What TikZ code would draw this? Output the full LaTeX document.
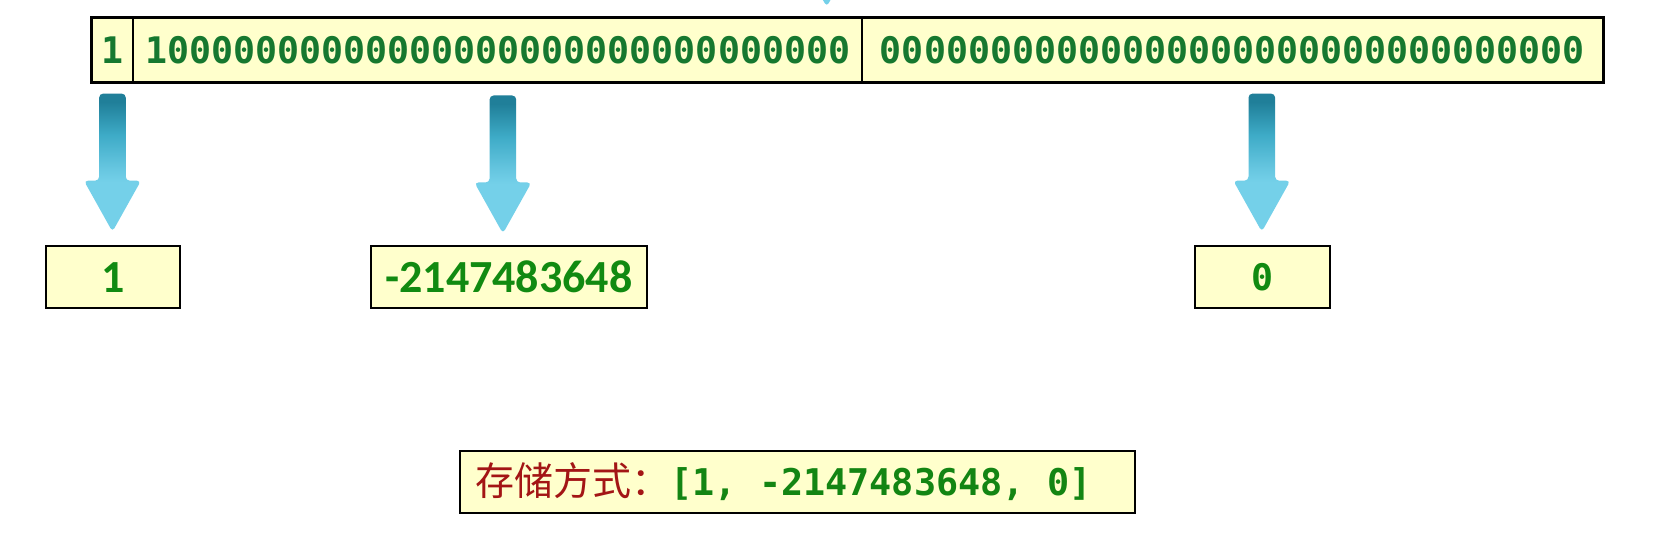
\documentclass[tikz,border=0pt]{standalone}
\usepackage{fontspec}
\usetikzlibrary{calc}
\newfontfamily\monof{DejaVu Sans Mono}
\newfontfamily\calib{Carlito}
\newfontfamily\cjk{Noto Sans CJK SC}
\definecolor{boxfill}{HTML}{FFFFCC}
\definecolor{topgreen}{HTML}{16782F}
\definecolor{valgreen}{HTML}{118A11}
\definecolor{brgreen}{HTML}{138513}
\definecolor{darkred}{HTML}{A31515}
\definecolor{arLight}{HTML}{74D0E9}
\definecolor{arLightB}{HTML}{66C6E0}
\definecolor{arMid}{HTML}{3EABC7}
\definecolor{arDark}{HTML}{207F99}
\pgfdeclareverticalshading{arrowgrad}{100bp}{color(0bp)=(arLight); color(43bp)=(arLight); color(48bp)=(arLightB); color(60bp)=(arMid); color(72bp)=(arDark); color(100bp)=(arDark)}
\newcommand{\blkarrow}[2]{%
  \shade[shading=arrowgrad, rounded corners=4pt] let \p1=#1, \p2=#2 in
    (\x1-13.3pt,\y1) -- (\x1-13.3pt,\y2+51pt) -- (\x1-28.5pt,\y2+51pt) -- (\x1,\y2)
    -- (\x1+28.5pt,\y2+51pt) -- (\x1+13.3pt,\y2+51pt) -- (\x1+13.3pt,\y1) -- cycle;}
\newcommand{\msp}{\hspace{0.602em}}
\tikzset{
  cell/.style={draw, line width=1.8pt, fill=boxfill, minimum height=64pt, inner sep=0pt,
    font=\monof\bfseries\fontsize{36.6}{40}\selectfont, text=topgreen},
  valbox/.style={draw, line width=2pt, fill=boxfill, minimum height=61.8pt, inner sep=0pt,
    font=\calib\bfseries\fontsize{46}{50}\selectfont, text=valgreen},
  storebox/.style={draw, line width=2pt, fill=boxfill, minimum height=61.8pt,
    inner xsep=15pt, inner ysep=0pt, text width=644.6pt, align=left}
}
\begin{document}
\begin{tikzpicture}[x=1pt,y=-1pt]
\clip (0,0) rectangle (1671,548);
\fill[white] (0,0) rectangle (1671,548);
% top bit row
\node[cell, minimum width=41.5pt] (bA) at (112.45,50.1) {1};
\node[cell, minimum width=729pt] (bB) at (497.7,50.1) {10000000000000000000000000000000};
\node[cell, minimum width=740.6pt] (bC) at (1232.5,50.1) {00000000000000000000000000000000};
\draw[line width=2.2pt] (bA.north west) rectangle (bC.south east);
% value boxes
\node[valbox, minimum width=134.3pt] (v1) at (113,277.1) {1};
\node[valbox, minimum width=276pt] (v2) at (508.9,277.1) {-2147483648\hspace{12pt}};
\node[valbox, minimum width=135.4pt, font=\monof\bfseries\fontsize{36.6}{40}\selectfont] (v3) at (1262.3,277.1) {0};
% storage box
\node[storebox] (st) at (797.7,481.7) {{\cjk\color{darkred}\fontsize{39}{42}\selectfont 存储方式：}{\monof\bfseries\color{brgreen}\fontsize{36.8}{42}\selectfont [1,\msp-2147483648,\msp0]}};
% arrows
\coordinate (topsrc) at (826.7,-200);
\blkarrow{(topsrc)}{($(bB.north -| topsrc)+(0,-10.5)$)}
\blkarrow{($(bA.south)+(0,10.6)$)}{($(v1.north -| bA.south)+(0,-13.5)$)}
\blkarrow{($(v2.north |- bB.south)+(-6,12.5)$)}{($(v2.north)+(-6,-11.7)$)}
\blkarrow{($(v3.north |- bC.south)+(-0.5,10.6)$)}{($(v3.north)+(-0.5,-13.5)$)}
\end{tikzpicture}
\end{document}
